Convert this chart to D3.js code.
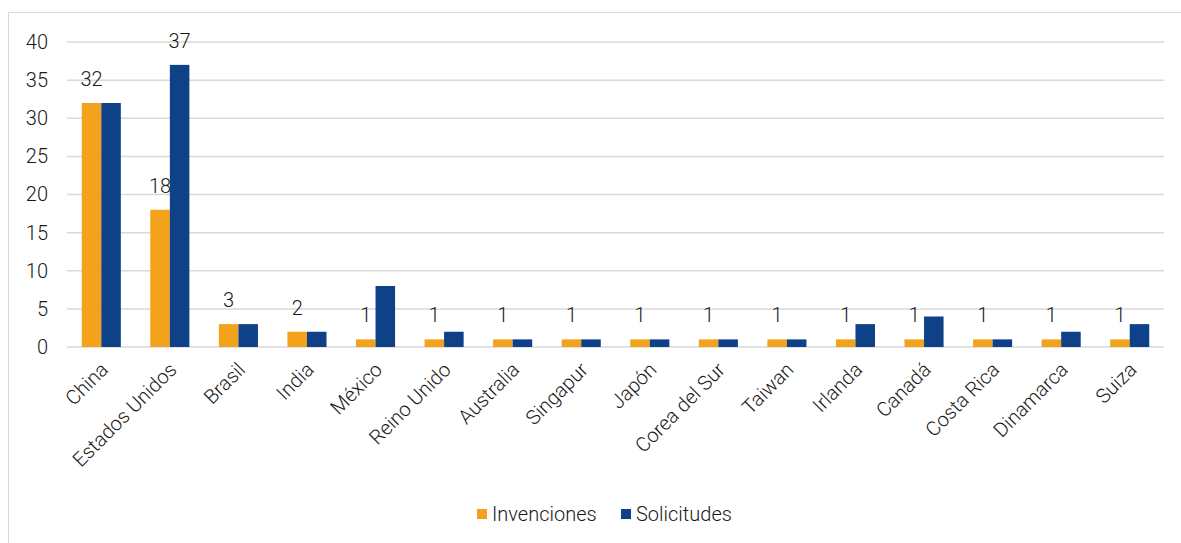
<!DOCTYPE html>
<html>
<head>
<meta charset="utf-8">
<script src="https://cdn.jsdelivr.net/npm/d3@7"></script>
<style>
  body { margin: 0; background: #fff; }
  svg text { font-family: Roboto, "Liberation Sans", Arial, sans-serif; font-weight: 300; fill: #1a1a1a; }
</style>
</head>
<body>
<div id="chart"></div>
<script>
// data
const categories = ["China", "Estados Unidos", "Brasil", "India", "México", "Reino Unido",
    "Australia", "Singapur", "Japón", "Corea del Sur", "Taiwan", "Irlanda", "Canadá",
    "Costa Rica", "Dinamarca", "Suiza"];
const invenciones = [32, 18, 3, 2, 1, 1, 1, 1, 1, 1, 1, 1, 1, 1, 1, 1];
const solicitudes = [32, 37, 3, 2, 8, 2, 1, 1, 1, 1, 1, 3, 4, 1, 2, 3];
// only this one Solicitudes bar carries a label in the original
const solicitudesLabelled = ["Estados Unidos"];
const yTicks = [0, 5, 10, 15, 20, 25, 30, 35, 40];
const seriesNames = ["Invenciones", "Solicitudes"];
const colors = ["#F2A31B", "#0E4188"];

const W = 1181, H = 543;
const margin = {top: 42, right: 17, bottom: 196, left: 67};
const width = W - margin.left - margin.right;
const height = H - margin.top - margin.bottom;

const svg = d3.select("#chart").append("svg")
    .attr("width", W)
    .attr("height", H);

// outer frame
svg.append("rect")
    .attr("x", 8.5).attr("y", 12.5)
    .attr("width", W + 10).attr("height", H + 10)
    .attr("fill", "none")
    .attr("stroke", "#d9d9d9");

const g = svg.append("g")
    .attr("transform", `translate(${margin.left},${margin.top})`);

const x = d3.scaleBand()
    .domain(categories)
    .range([0, width])
    .paddingInner(0.43)
    .paddingOuter(0.215);

const x1 = d3.scaleBand()
    .domain(seriesNames)
    .range([0, x.bandwidth()]);

const y = d3.scaleLinear()
    .domain([0, 40])
    .range([height, 0]);

// gridlines
g.append("g")
    .selectAll("line")
    .data(yTicks)
    .join("line")
    .attr("x1", 0).attr("x2", width)
    .attr("y1", d => y(d)).attr("y2", d => y(d))
    .attr("stroke", "#d9d9d9")
    .attr("stroke-width", 1.5);

// y axis labels
const yAxis = g.append("g")
    .call(d3.axisLeft(y).tickValues(yTicks).tickSize(0).tickPadding(19));
yAxis.select(".domain").remove();
yAxis.selectAll("text")
    .style("font-size", "20px")
    .style("font-family", null)
    .attr("fill", "#1a1a1a");

// bars
const rows = categories.map((c, i) => ({cat: c, vals: [invenciones[i], solicitudes[i]]}));

const groups = g.selectAll(".grp")
    .data(rows)
    .join("g")
    .attr("class", "grp")
    .attr("transform", d => `translate(${x(d.cat)},0)`);

groups.selectAll("rect")
    .data(d => d.vals.map((v, k) => ({key: seriesNames[k], v: v, k: k})))
    .join("rect")
    .attr("x", d => x1(d.key))
    .attr("y", d => y(d.v))
    .attr("width", x1.bandwidth())
    .attr("height", d => height - y(d.v))
    .attr("fill", d => colors[d.k]);

// value labels for Invenciones
groups.append("text")
    .attr("x", x1("Invenciones") + x1.bandwidth() / 2)
    .attr("y", d => y(d.vals[0]) - 17)
    .attr("text-anchor", "middle")
    .style("font-size", "20px")
    .text(d => d.vals[0]);

// value label for the labelled Solicitudes bar
groups.filter(d => solicitudesLabelled.includes(d.cat))
    .append("text")
    .attr("x", x1("Solicitudes") + x1.bandwidth() / 2)
    .attr("y", d => y(d.vals[1]) - 17)
    .attr("text-anchor", "middle")
    .style("font-size", "20px")
    .text(d => d.vals[1]);

// x axis labels
const xAxis = g.append("g")
    .attr("transform", `translate(0,${height})`)
    .call(d3.axisBottom(x).tickSize(0).tickPadding(0));
xAxis.select(".domain").remove();
xAxis.selectAll("text")
    .style("font-size", "20px")
    .style("font-family", null)
    .attr("fill", "#1a1a1a")
    .attr("text-anchor", "end")
    .attr("dy", 0)
    .attr("transform", "translate(8,24) rotate(-45)");

// legend
const legend = svg.append("g")
    .attr("transform", "translate(477,514)");
const legendX = [0, 144];
seriesNames.forEach((name, i) => {
    const item = legend.append("g").attr("transform", `translate(${legendX[i]},0)`);
    item.append("rect")
        .attr("x", 0).attr("y", -5)
        .attr("width", 10).attr("height", 10)
        .attr("fill", colors[i]);
    item.append("text")
        .attr("x", 15).attr("y", 7)
        .style("font-size", "20px")
        .text(name);
});
</script>
</body>
</html>
